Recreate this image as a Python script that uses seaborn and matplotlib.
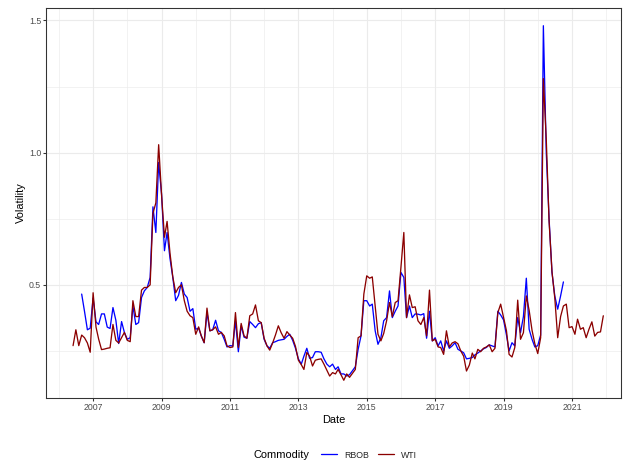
import pandas as pd
import matplotlib
matplotlib.use("Agg")
import matplotlib.pyplot as plt
import matplotlib.dates as mdates
from matplotlib.ticker import FixedLocator
from matplotlib.lines import Line2D
import seaborn as sns

# Monthly volatility series
commodities = ["RBOB", "WTI"]
line_colors = ["#0000FF", "#8B0000"]

rbob_start = "2006-09-01"
rbob_vol = [
    0.465, 0.40, 0.33, 0.336,
    0.45, 0.36, 0.35, 0.39, 0.39, 0.34, 0.335, 0.414, 0.366, 0.278,
    0.361, 0.32, 0.294, 0.30, 0.42, 0.35, 0.357, 0.452, 0.477, 0.49,
    0.528, 0.795, 0.698, 0.963, 0.843, 0.629, 0.698, 0.60, 0.528, 0.44,
    0.46, 0.509, 0.465, 0.452, 0.40, 0.41, 0.332, 0.336, 0.307, 0.281,
    0.395, 0.326, 0.33, 0.366, 0.326, 0.32, 0.294, 0.265, 0.27, 0.269,
    0.364, 0.247, 0.345, 0.302, 0.298, 0.361, 0.35, 0.338, 0.353, 0.357,
    0.294, 0.269, 0.26, 0.281, 0.285, 0.29, 0.292, 0.294, 0.305, 0.313,
    0.29, 0.26, 0.22, 0.20, 0.23, 0.26, 0.222, 0.225, 0.247, 0.247,
    0.245, 0.22, 0.20, 0.19, 0.20, 0.18, 0.19, 0.163, 0.163, 0.155,
    0.16, 0.175, 0.19, 0.256, 0.307, 0.44, 0.44, 0.42, 0.427, 0.326,
    0.275, 0.30, 0.364, 0.376, 0.477, 0.376, 0.40, 0.42, 0.547, 0.528,
    0.376, 0.42, 0.376, 0.39, 0.389, 0.386, 0.391, 0.298, 0.40, 0.288,
    0.30, 0.269, 0.288, 0.25, 0.288, 0.26, 0.269, 0.281, 0.256, 0.25,
    0.243, 0.22, 0.222, 0.225, 0.235, 0.242, 0.25, 0.258, 0.263, 0.273,
    0.269, 0.265, 0.40, 0.386, 0.367, 0.31, 0.25, 0.281, 0.269, 0.376,
    0.319, 0.38, 0.525, 0.332, 0.294, 0.265, 0.27, 0.31, 1.48, 1.00,
    0.75, 0.547, 0.458, 0.408, 0.458, 0.511,
]

wti_start = "2006-06-01"
wti_vol = [
    0.27, 0.33, 0.27, 0.31, 0.30, 0.28, 0.245,
    0.47, 0.34, 0.295, 0.255, 0.257, 0.26, 0.262, 0.35, 0.29, 0.28,
    0.30, 0.32, 0.29, 0.285, 0.44, 0.38, 0.38, 0.48, 0.49, 0.49,
    0.50, 0.77, 0.81, 1.03, 0.84, 0.68, 0.74, 0.62, 0.53, 0.47,
    0.49, 0.50, 0.44, 0.40, 0.383, 0.376, 0.313, 0.341, 0.307, 0.281,
    0.412, 0.326, 0.33, 0.341, 0.313, 0.32, 0.307, 0.269, 0.263, 0.265,
    0.395, 0.263, 0.354, 0.307, 0.298, 0.383, 0.39, 0.424, 0.364, 0.357,
    0.298, 0.269, 0.253, 0.28, 0.31, 0.345, 0.319, 0.298, 0.323, 0.31,
    0.298, 0.267, 0.215, 0.198, 0.18, 0.244, 0.23, 0.193, 0.215, 0.218,
    0.22, 0.20, 0.177, 0.155, 0.168, 0.163, 0.18, 0.16, 0.139, 0.163,
    0.15, 0.165, 0.18, 0.30, 0.307, 0.465, 0.534, 0.525, 0.53, 0.42,
    0.313, 0.288, 0.316, 0.364, 0.433, 0.38, 0.433, 0.44, 0.566, 0.698,
    0.376, 0.462, 0.414, 0.417, 0.364, 0.35, 0.376, 0.307, 0.48, 0.288,
    0.294, 0.265, 0.263, 0.237, 0.326, 0.265, 0.28, 0.285, 0.277, 0.25,
    0.23, 0.174, 0.197, 0.242, 0.22, 0.256, 0.247, 0.26, 0.265, 0.273,
    0.247, 0.26, 0.395, 0.427, 0.376, 0.326, 0.237, 0.227, 0.263, 0.442,
    0.294, 0.319, 0.458, 0.404, 0.328, 0.277, 0.24, 0.30, 1.28, 1.05,
    0.74, 0.55, 0.45, 0.30, 0.38, 0.42, 0.427, 0.338, 0.342, 0.313,
    0.37, 0.332, 0.338, 0.30, 0.332, 0.36, 0.306, 0.32, 0.322, 0.383,
]

x_tick_years = [2007, 2009, 2011, 2013, 2015, 2017, 2019, 2021]
x_minor_years = [2006, 2008, 2010, 2012, 2014, 2016, 2018, 2020, 2022]
y_ticks = [0.5, 1.0, 1.5]
y_tick_labels = ["0.5", "1.0", "1.5"]
y_minor = [0.25, 0.75, 1.25]

frames = []
for name, start, vals in ((commodities[0], rbob_start, rbob_vol),
                          (commodities[1], wti_start, wti_vol)):
    frames.append(pd.DataFrame({
        "Date": pd.date_range(start, periods=len(vals), freq="MS"),
        "Volatility": vals,
        "Commodity": name,
    }))
df = pd.concat(frames, ignore_index=True)

sns.set_style("white")
plt.rcParams["font.family"] = ["Liberation Sans", "DejaVu Sans"]

W, H = 626, 463
fig = plt.figure(figsize=(W / 72, H / 72), dpi=72)
ax = fig.add_axes([46 / W, 1 - 398 / H, (621 - 46) / W, (398 - 8) / H])

sns.lineplot(data=df, x="Date", y="Volatility", hue="Commodity",
             hue_order=commodities, palette=dict(zip(commodities, line_colors)),
             estimator=None, linewidth=1.3, legend=False, ax=ax, zorder=3)

# axis ranges
ax.set_xlim(pd.Timestamp("2005-08-16"), pd.Timestamp("2022-06-08"))
vmin, vmax = df["Volatility"].min(), df["Volatility"].max()
pad = 0.05 * (vmax - vmin)
ax.set_ylim(vmin - pad, vmax + pad)

# ticks and grid (theme_bw look)
ax.xaxis.set_major_locator(FixedLocator(
    [mdates.date2num(pd.Timestamp(f"{y}-01-01")) for y in x_tick_years]))
ax.xaxis.set_minor_locator(FixedLocator(
    [mdates.date2num(pd.Timestamp(f"{y}-01-01")) for y in x_minor_years]))
ax.set_xticklabels([str(y) for y in x_tick_years])
ax.yaxis.set_major_locator(FixedLocator(y_ticks))
ax.yaxis.set_minor_locator(FixedLocator(y_minor))
ax.set_yticklabels(y_tick_labels)

ax.grid(which="major", color="#EBEBEB", linewidth=1.1, zorder=0)
ax.grid(which="minor", color="#EBEBEB", linewidth=0.6, zorder=0)
ax.set_axisbelow(True)

ax.tick_params(which="major", length=2.75, width=1.07, color="#333333",
               labelcolor="#4D4D4D", labelsize=8.8, pad=2.2,
               bottom=True, left=True)
ax.tick_params(which="minor", length=0)
for sp in ax.spines.values():
    sp.set_color("#333333")
    sp.set_linewidth(1.07)
    sp.set_visible(True)

ax.set_xlabel("Date", fontsize=11, color="black", labelpad=3)
ax.set_ylabel("Volatility", fontsize=11, color="black", labelpad=3)

# legend along the bottom
handles = [Line2D([], [], color=c, linewidth=1.3) for c in line_colors]
fig.text(254 / W, 1 - 455 / H, "Commodity", fontsize=11, color="black",
         ha="left", va="center")
fig.legend(handles, commodities, loc="center left",
           bbox_to_anchor=(321 / W, 1 - 455 / H), ncol=2, frameon=False,
           fontsize=8.8, handlelength=1.85, handletextpad=0.8,
           columnspacing=1.0, borderpad=0, borderaxespad=0)

fig.savefig("out.png", dpi=72)
